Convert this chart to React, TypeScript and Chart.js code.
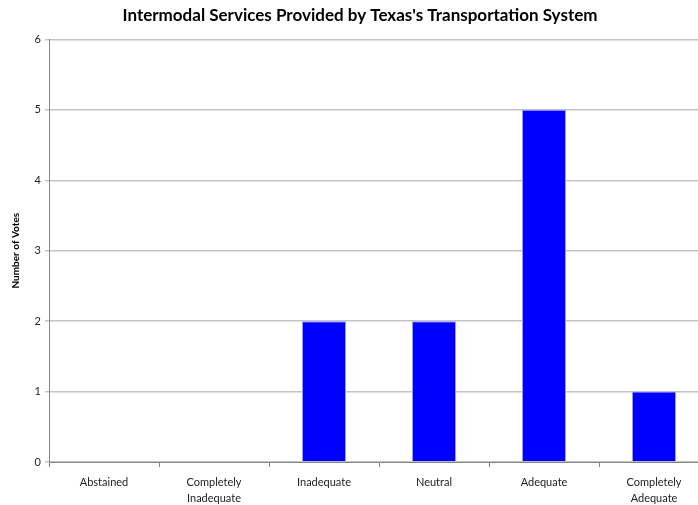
import React, { useEffect, useRef } from "react";
import { Chart, registerables } from "chart.js";

Chart.register(...registerables);

const chartTitle = "Intermodal Services Provided by Texas's Transportation System";
const yAxisTitle = "Number of Votes";
const categories: string[][] = [
  ["Abstained"],
  ["Completely", "Inadequate"],
  ["Inadequate"],
  ["Neutral"],
  ["Adequate"],
  ["Completely", "Adequate"],
];
const votes: number[] = [0, 0, 2, 2, 5, 1];
const yMin = 0;
const yMax = 6;
const yStep = 1;

const FONT = "Lato, 'Open Sans', 'Liberation Sans', sans-serif";

export default function App() {
  const ref = useRef<HTMLCanvasElement | null>(null);

  useEffect(() => {
    document.documentElement.style.overflow = "hidden";
    document.body.style.overflow = "hidden";
    const canvas = ref.current;
    if (!canvas) return;
    const chart = new Chart(canvas, {
      type: "bar",
      data: {
        labels: categories,
        datasets: [
          {
            label: yAxisTitle,
            data: votes,
            backgroundColor: "#0000FF",
            borderColor: "#9a9aff",
            borderWidth: 1,
            barPercentage: 0.4,
            categoryPercentage: 1,
          },
        ],
      },
      options: {
        responsive: false,
        animation: false,
        devicePixelRatio: 1,
        layout: { padding: { left: 11, right: 11, top: 0, bottom: 0 } },
        plugins: {
          legend: { display: false },
          tooltip: { enabled: false },
          title: {
            display: true,
            text: chartTitle,
            color: "#000000",
            font: { family: FONT, size: 17, weight: "bold", lineHeight: 1.2 },
            padding: { top: 5, bottom: 14 },
          },
        },
        scales: {
          x: {
            grid: {
              display: true,
              drawOnChartArea: false,
              drawTicks: true,
              tickLength: 5,
              color: "#868686",
              offset: true,
            },
            border: { display: true, color: "#868686", width: 1 },
            ticks: {
              autoSkip: false,
              maxRotation: 0,
              minRotation: 0,
              padding: 7,
              color: "#222222",
              font: { family: FONT, size: 11, lineHeight: 1.5 },
            },
            afterFit: (scale: any) => {
              scale.height = 43;
            },
          },
          y: {
            min: yMin,
            max: yMax,
            ticks: {
              stepSize: yStep,
              padding: 4,
              color: "#222222",
              font: { family: FONT, size: 11 },
            },
            grid: {
              color: "#c4c4c4",
              lineWidth: 1.5,
              tickLength: 4,
              drawTicks: true,
            },
            border: { display: true, color: "#868686", width: 1 },
            title: {
              display: true,
              text: yAxisTitle,
              color: "#000000",
              font: { family: FONT, size: 10, weight: "bold", lineHeight: 1 },
              padding: { top: 0, bottom: 0 },
            },
            afterFit: (scale: any) => {
              scale.width = 38;
            },
          },
        },
      },
    });
    return () => chart.destroy();
  }, []);

  return (
    <div style={{ position: "fixed", left: 0, top: 0, width: 720, height: 505, background: "#ffffff" }}>
      <canvas ref={ref} width={720} height={505} style={{ display: "block" }} />
    </div>
  );
}
